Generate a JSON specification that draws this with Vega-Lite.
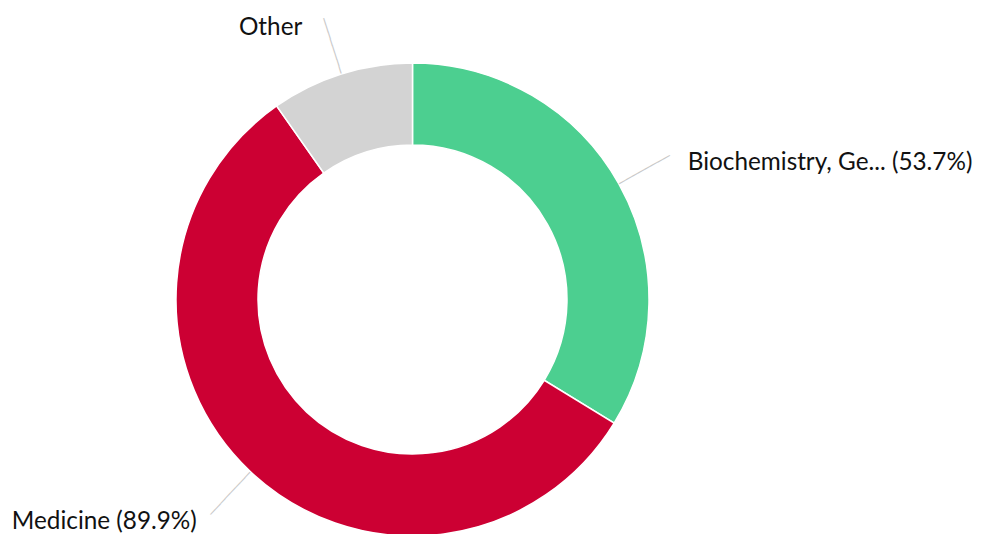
{
  "$schema": "https://vega.github.io/schema/vega-lite/v6.json",
  "autosize": "none",
  "width": 825,
  "height": 469,
  "padding": {"left": 0, "top": 65, "right": 164, "bottom": 0},
  "background": "white",
  "config": {"view": {"stroke": null}},
  "data": {
    "values": [
      {"category": "Biochemistry, Genetics and Molecular Biology", "value": 53.7, "label": "Biochemistry, Ge... (53.7%)"},
      {"category": "Medicine", "value": 89.9, "label": "Medicine (89.9%)"},
      {"category": "Other", "value": 15.5, "label": "Other"}
    ]
  },
  "encoding": {
    "theta": {"field": "value", "type": "quantitative", "stack": true},
    "color": {
      "field": "category",
      "type": "nominal",
      "scale": {
        "domain": ["Biochemistry, Genetics and Molecular Biology", "Medicine", "Other"],
        "range": ["#4ccf90", "#cc0033", "#d3d3d3"]
      },
      "legend": null
    }
  },
  "layer": [
    {
      "mark": {"type": "arc", "radius": 236.5, "innerRadius": 154.5, "stroke": "white", "strokeWidth": 1.5}
    },
    {
      "mark": {"type": "text", "text": "────────", "radius": 266, "align": "center", "baseline": "middle", "angle": -29.25, "font": "DejaVu Sans Mono", "fontSize": 12, "fill": "#c8c8c8"},
      "encoding": {
        "opacity": {"condition": {"test": "datum.category === 'Biochemistry, Genetics and Molecular Biology'", "value": 1}, "value": 0}
      }
    },
    {
      "mark": {"type": "text", "text": "────────", "radius": 266, "align": "center", "baseline": "middle", "angle": -46.8, "font": "DejaVu Sans Mono", "fontSize": 12, "fill": "#c8c8c8"},
      "encoding": {
        "opacity": {"condition": {"test": "datum.category === 'Medicine'", "value": 1}, "value": 0}
      }
    },
    {
      "mark": {"type": "text", "text": "────────", "radius": 266, "align": "center", "baseline": "middle", "angle": 72.45, "font": "DejaVu Sans Mono", "fontSize": 12, "fill": "#c8c8c8"},
      "encoding": {
        "opacity": {"condition": {"test": "datum.category === 'Other'", "value": 1}, "value": 0}
      }
    },
    {
      "mark": {"type": "text", "radius": 296, "align": "left", "baseline": "middle", "dx": 17, "dy": 8, "font": "Lato", "fontSize": 24.3, "fill": "#111111"},
      "encoding": {
        "text": {"condition": {"test": "datum.category === 'Biochemistry, Genetics and Molecular Biology'", "field": "label"}, "value": ""}
      }
    },
    {
      "mark": {"type": "text", "radius": 296, "align": "right", "baseline": "middle", "dx": -13, "dy": 7, "font": "Lato", "fontSize": 24.3, "fill": "#111111"},
      "encoding": {
        "text": {"condition": {"test": "datum.category === 'Medicine'", "field": "label"}, "value": ""}
      }
    },
    {
      "mark": {"type": "text", "radius": 296, "align": "right", "baseline": "middle", "dx": -21, "dy": 11, "font": "Lato", "fontSize": 24.3, "fill": "#111111"},
      "encoding": {
        "text": {"condition": {"test": "datum.category === 'Other'", "field": "label"}, "value": ""}
      }
    }
  ]
}
